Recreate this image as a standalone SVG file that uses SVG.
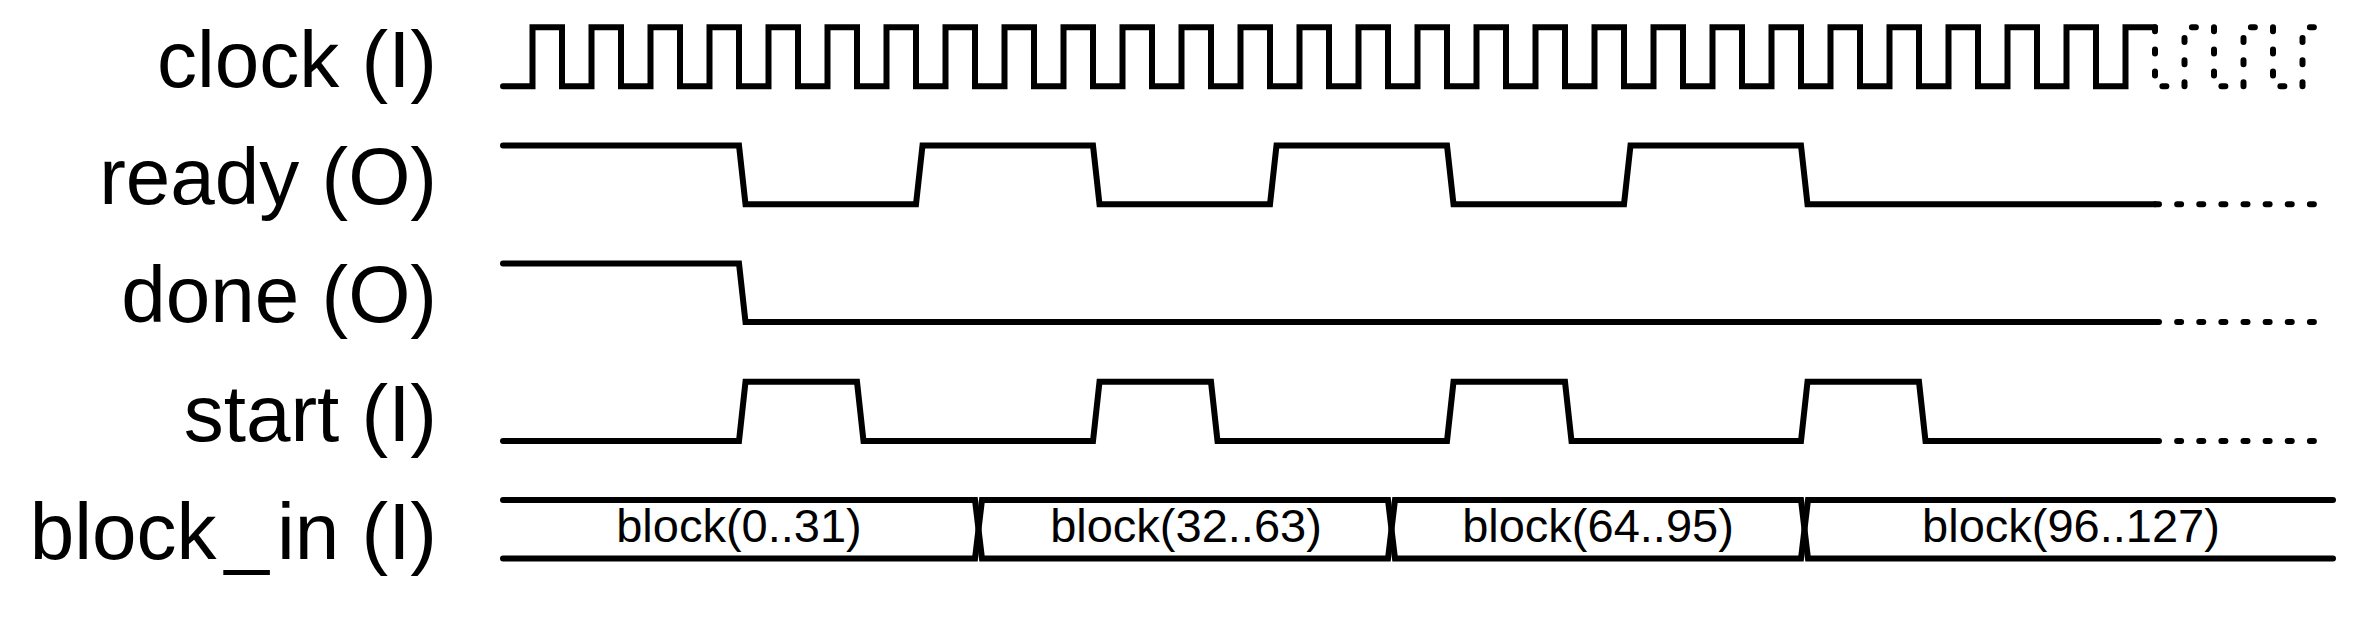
<svg xmlns="http://www.w3.org/2000/svg" width="2375" height="622" viewBox="0 0 2375 622">
<style>
.w{fill:none;stroke:#000;stroke-width:6;stroke-linejoin:miter;stroke-linecap:round}
.d{fill:none;stroke:#000;stroke-width:6;stroke-linejoin:round;stroke-linecap:round;stroke-dasharray:4 18.125}
.lbl{font-family:"Liberation Sans",Arial,sans-serif;font-size:80px;text-anchor:end;fill:#000}
.bus{font-family:"Liberation Sans",Arial,sans-serif;font-size:47px;text-anchor:middle;fill:#000}
</style>
<rect width="2375" height="622" fill="#fff"/>
<g id="clock">
<text class="lbl" x="437" y="87">clock (I)</text>
<path class="w" d="M503,86.3 H532.5 V27.3 H562 V86.3 H591.5 V27.3 H621 V86.3 H650.5 V27.3 H680 V86.3 H709.5 V27.3 H739 V86.3 H768.5 V27.3 H798 V86.3 H827.5 V27.3 H857 V86.3 H886.5 V27.3 H916 V86.3 H945.5 V27.3 H975 V86.3 H1004.5 V27.3 H1034 V86.3 H1063.5 V27.3 H1093 V86.3 H1122.5 V27.3 H1152 V86.3 H1181.5 V27.3 H1211 V86.3 H1240.5 V27.3 H1270 V86.3 H1299.5 V27.3 H1329 V86.3 H1358.5 V27.3 H1388 V86.3 H1417.5 V27.3 H1447 V86.3 H1476.5 V27.3 H1506 V86.3 H1535.5 V27.3 H1565 V86.3 H1594.5 V27.3 H1624 V86.3 H1653.5 V27.3 H1683 V86.3 H1712.5 V27.3 H1742 V86.3 H1771.5 V27.3 H1801 V86.3 H1830.5 V27.3 H1860 V86.3 H1889.5 V27.3 H1919 V86.3 H1948.5 V27.3 H1978 V86.3 H2007.5 V27.3 H2037 V86.3 H2066.5 V27.3 H2096 V86.3 H2125.5 V27.3 H2155"/>
<path class="d" d="M2155,27.3 V86.3 H2184.5 V27.3 H2214 V86.3 H2243.5 V27.3 H2273 V86.3 H2302.5 V27.3 H2318"/>
</g>
<g id="ready">
<text class="lbl" x="437" y="204">ready (O)</text>
<path class="w" d="M503,145.5 H739 L745.5,204.3 H916 L922.5,145.5 H1093 L1099.5,204.3 H1270 L1276.5,145.5 H1447 L1453.5,204.3 H1624 L1630.5,145.5 H1801 L1807.5,204.3 H2155"/>
<path class="d" d="M2155,204.3 H2320"/>
</g>
<g id="done">
<text class="lbl" x="437" y="322">done (O)</text>
<path class="w" d="M503,263.5 H739 L745.5,322 H2155"/>
<path class="d" d="M2155,322 H2320"/>
</g>
<g id="start">
<text class="lbl" x="437" y="441">start (I)</text>
<path class="w" d="M503,441 H739 L745.5,381.8 H857 L863.5,441 H1093 L1099.5,381.8 H1211 L1217.5,441 H1447 L1453.5,381.8 H1565 L1571.5,441 H1801 L1807.5,381.8 H1919 L1925.5,441 H2155"/>
<path class="d" d="M2155,441 H2320"/>
</g>
<g id="block_in">
<text class="lbl" x="437" y="559">block<tspan dx="8">_</tspan><tspan dx="8">in (I)</tspan></text>
<path class="w" d="M503,500 H975 L982,558.6 H1388 L1395,500 H1801 L1808,558.6 H2333"/>
<path class="w" d="M503,558.6 H975 L982,500 H1388 L1395,558.6 H1801 L1808,500 H2333"/>
<text class="bus" x="739" y="542">block(0..31)</text>
<text class="bus" x="1186" y="542">block(32..63)</text>
<text class="bus" x="1598" y="542">block(64..95)</text>
<text class="bus" x="2071" y="542">block(96..127)</text>
</g>
<g id="connectors"></g>
</svg>
